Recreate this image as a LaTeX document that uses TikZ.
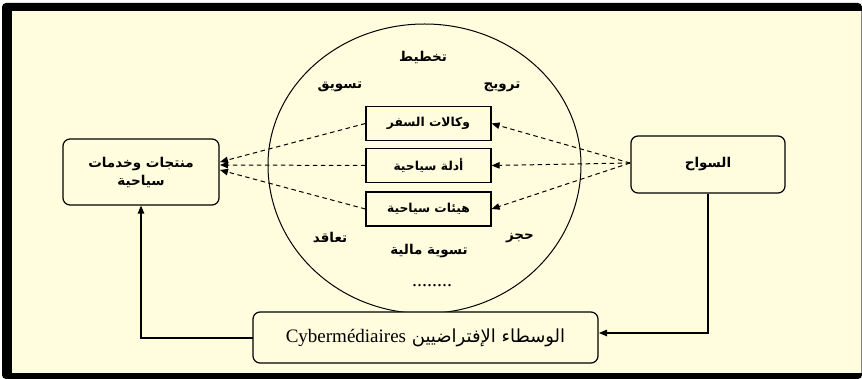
\documentclass[tikz,border=0pt]{standalone}
\usepackage{fontspec}
\setmainfont{Liberation Serif}
\newfontfamily\arfont[Script=Arabic]{DejaVu Sans}
\TeXXeTstate=1
\usetikzlibrary{arrows.meta}
\definecolor{cream}{RGB}{255,253,222}
\begin{document}
\begin{tikzpicture}[x=1pt,y=-1pt,
  box/.style={draw,line width=1.2pt,fill=cream,inner sep=0pt,font=\arfont\bfseries\fontsize{13.5}{16}\selectfont},
  rbox/.style={box,rounded corners=7pt},
  ibox/.style={box,minimum width=125pt,minimum height=34pt,font=\arfont\bfseries\fontsize{12.3}{15}\selectfont},
  lab/.style={font=\arfont\bfseries\fontsize{13.5}{16}\selectfont,inner sep=0pt},
  dasharrow/.style={dash pattern=on 4.5pt off 3.5pt,line width=1pt,-{Triangle[length=8pt,width=6.5pt]}},
  solidarrow/.style={line width=1.2pt,-{Triangle[length=8pt,width=6.5pt]}}]
\useasboundingbox (0,0) rectangle (862,379);
\fill[black,rounded corners=4pt] (2,3) rectangle (862,379);
\fill[cream] (12,11) rectangle (861,373);
\draw[gray,line width=1pt] (861.5,11) -- (861.5,373);
% ellipse
\draw[line width=1pt] (268,165) arc[start angle=180,end angle=360,x radius=156.5,y radius=141]
   arc[start angle=0,end angle=180,x radius=156.5,y radius=148.5];
% boxes
\node[rbox,minimum width=156pt,minimum height=66pt,align=center] (L) at (141,172)
  {\beginR منتجات وخدمات\endR\\[2pt]\beginR سياحية\endR};
\node[rbox,minimum width=154pt,minimum height=57pt] (R) at (708,164.5) {\beginR السواح\endR};
\node[rbox,minimum width=345pt,minimum height=51pt,font=\arfont\fontsize{18}{21}\selectfont] (B) at (425.5,337.5)
  {\beginR الوسطاء الإفتراضيين \beginL{\rmfamily\fontsize{19}{21}\selectfont Cybermédiaires}\endL\endR};
\node[ibox] (b1) at (428.5,123.5) {\beginR وكالات السفر\endR};
\node[ibox] (b2) at (428.5,165.5) {\beginR أدلة سياحية\endR};
\node[ibox] (b3) at (428.5,209) {\beginR هيئات سياحية\endR};
% labels
\node[lab] (t1) at (423,57) {\beginR تخطيط\endR};
\node[lab] (t2) at (502,87) {\beginR ترويج\endR};
\node[lab] (t3) at (340,87) {\beginR تسويق\endR};
\node[lab] (t4) at (330,238) {\beginR تعاقد\endR};
\node[lab] (t5) at (520,238) {\beginR حجز\endR};
\node[lab] (t6) at (429,251) {\beginR تسوية مالية\endR};
\node[inner sep=0pt,anchor=base,font=\fontsize{20}{22}\selectfont] (t7) at (432,287) {........};
% coordinates
\coordinate (rw) at (630,163);
\coordinate (l1) at (220,162);
\coordinate (l2) at (220,165);
\coordinate (l3) at (220,170);
\coordinate (rb) at (599,333);
\coordinate (lb) at (253,338);
% dashed arrows
\draw[dasharrow] (rw) -- (b1.east);
\draw[dasharrow] (rw) -- (b2.east);
\draw[dasharrow] (rw) -- (b3.east);
\draw[dasharrow] (b1.west) -- (l1);
\draw[dasharrow] (b2.west) -- (l2);
\draw[dasharrow] (b3.west) -- (l3);
% solid connectors
\draw[solidarrow] (R.south) |- (rb);
\draw[solidarrow] (lb) -| (L.south);
\end{tikzpicture}
\end{document}
